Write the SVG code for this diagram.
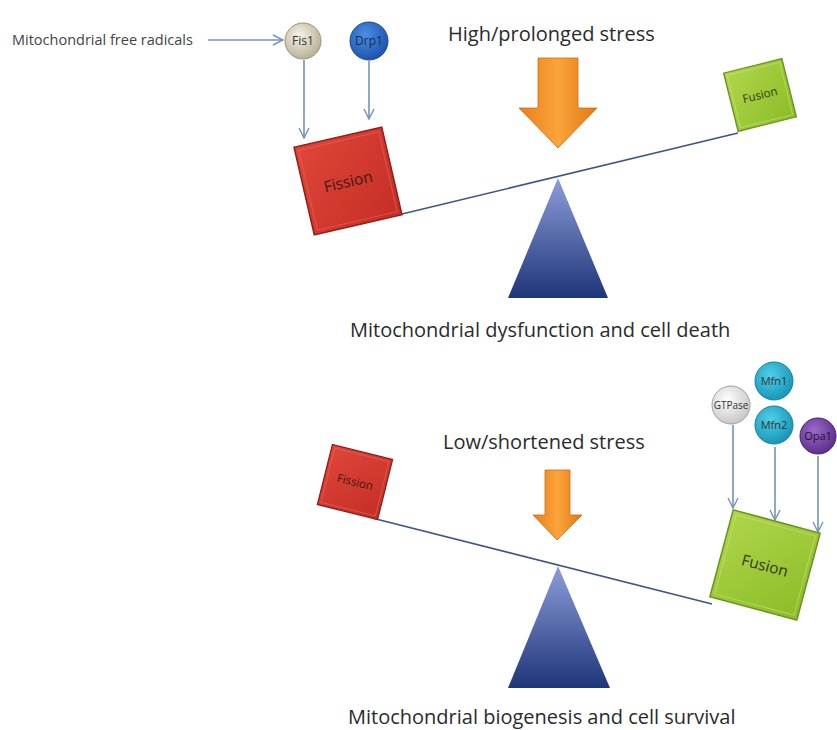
<svg xmlns="http://www.w3.org/2000/svg" width="837" height="730" viewBox="0 0 837 730">
<defs>
<style>
.t{font-family:"Open Sans","Liberation Sans",Arial,sans-serif;fill:#2b2b2b}
.big{font-size:20px}
.cap{font-size:20px}
.small{font-size:14.5px;fill:#444}
.lbl{font-size:11px;text-anchor:middle;fill:#333}
.con{stroke:#7393b8;stroke-width:1.6;fill:none;marker-end:url(#ah)}
.beam{stroke:#3d5683;stroke-width:1.6;fill:none}
.boxtxt{font-size:15.5px;text-anchor:middle;fill:#3a1a10}
</style>
<marker id="ah" viewBox="0 0 12 12" refX="11" refY="6" markerWidth="12" markerHeight="12" markerUnits="userSpaceOnUse" orient="auto">
<path d="M1,1 L11,6 L1,11" fill="none" stroke="#7393b8" stroke-width="1.4"/>
</marker>
<linearGradient id="orange" x1="0" y1="0" x2="1" y2="0">
<stop offset="0" stop-color="#e8801c"/>
<stop offset="0.5" stop-color="#fba43a"/>
<stop offset="1" stop-color="#e27814"/>
</linearGradient>
<linearGradient id="tri" x1="0" y1="0" x2="0" y2="1">
<stop offset="0" stop-color="#8d9ddb"/>
<stop offset="1" stop-color="#1e3578"/>
</linearGradient>
<linearGradient id="red" x1="0" y1="0" x2="1" y2="1">
<stop offset="0" stop-color="#e0463a"/>
<stop offset="1" stop-color="#c42e24"/>
</linearGradient>
<linearGradient id="green" x1="0" y1="0" x2="1" y2="1">
<stop offset="0" stop-color="#b0d64a"/>
<stop offset="1" stop-color="#8cbc28"/>
</linearGradient>
<radialGradient id="cream" cx="0.4" cy="0.35" r="0.7">
<stop offset="0" stop-color="#f6f4ea"/>
<stop offset="1" stop-color="#b4ad90"/>
</radialGradient>
<radialGradient id="blue" cx="0.4" cy="0.35" r="0.7">
<stop offset="0" stop-color="#4a90e6"/>
<stop offset="1" stop-color="#1b4fa8"/>
</radialGradient>
<radialGradient id="white" cx="0.4" cy="0.35" r="0.7">
<stop offset="0" stop-color="#ffffff"/>
<stop offset="1" stop-color="#c4c4c4"/>
</radialGradient>
<radialGradient id="cyan" cx="0.4" cy="0.35" r="0.7">
<stop offset="0" stop-color="#4fd0ea"/>
<stop offset="1" stop-color="#1492b4"/>
</radialGradient>
<radialGradient id="purple" cx="0.4" cy="0.35" r="0.7">
<stop offset="0" stop-color="#9a6ac8"/>
<stop offset="1" stop-color="#5b2b8a"/>
</radialGradient>
</defs>
<rect width="837" height="730" fill="#ffffff"/>

<!-- connectors -->
<g id="connectors">
<line class="con" x1="208" y1="40" x2="283" y2="40"/>
<line class="con" x1="304" y1="60" x2="304" y2="138"/>
<line class="con" x1="369" y1="61" x2="369" y2="119"/>
<line class="con" x1="733" y1="425" x2="733" y2="508"/>
<line class="con" x1="775" y1="447" x2="775" y2="520"/>
<line class="con" x1="818" y1="456" x2="818" y2="532"/>
<line class="beam" x1="402" y1="214" x2="738" y2="133"/>
<line class="beam" x1="372" y1="518" x2="712" y2="604"/>
</g>

<!-- top section -->
<g id="free-radicals"><text class="t small" x="12" y="45">Mitochondrial free radicals</text></g>
<g id="fis1">
<circle cx="303" cy="41" r="18" fill="url(#cream)" stroke="#9a9478" stroke-width="1"/>
<text class="t lbl" x="303" y="45" style="font-size:12px">Fis1</text>
</g>
<g id="drp1">
<circle cx="369" cy="41" r="19" fill="url(#blue)" stroke="#1a4a9a" stroke-width="1"/>
<text class="t lbl" x="369" y="45" style="font-size:12px;fill:#1c2a4a">Drp1</text>
</g>
<g id="high-stress-label"><text class="t big" x="448" y="41">High/prolonged stress</text></g>
<g id="high-stress-arrow">
<polygon points="538,58 578,58 578,108 597,108 558,148 519,108 538,108" fill="url(#orange)" stroke="#d06a10" stroke-width="0.8"/>
</g>
<g id="fission-top" transform="translate(348,181) rotate(-13)">
<rect x="-45" y="-45" width="90" height="90" fill="url(#red)" stroke="#8e1e18" stroke-width="1.5"/>
<rect x="-41" y="-41" width="82" height="82" fill="none" stroke="#e8685c" stroke-width="1" opacity="0.6"/>
<text class="t boxtxt" x="0" y="6">Fission</text>
</g>
<g id="fusion-top" transform="translate(760,95) rotate(-14)">
<rect x="-30" y="-30" width="60" height="60" fill="url(#green)" stroke="#6a9220" stroke-width="1.3"/>
<rect x="-27" y="-27" width="54" height="54" fill="none" stroke="#cce47a" stroke-width="1" opacity="0.6"/>
<text class="t boxtxt" x="0" y="4" style="font-size:11.5px;fill:#2e3a10">Fusion</text>
</g>
<g id="fulcrum-top">
<polygon points="558,178 608,298 508,298" fill="url(#tri)"/>
</g>
<g id="top-outcome"><text class="t cap" x="350" y="337">Mitochondrial dysfunction and cell death</text></g>

<!-- bottom section -->
<g id="gtpase">
<circle cx="731" cy="405" r="19" fill="url(#white)" stroke="#a0a0a0" stroke-width="1"/>
<text class="t lbl" x="731" y="409" style="font-size:10px">GTPase</text>
</g>
<g id="mfn1">
<circle cx="774" cy="381" r="19" fill="url(#cyan)" stroke="#10809e" stroke-width="1"/>
<text class="t lbl" x="774" y="385">Mfn1</text>
</g>
<g id="mfn2">
<circle cx="774" cy="425" r="19" fill="url(#cyan)" stroke="#10809e" stroke-width="1"/>
<text class="t lbl" x="774" y="429">Mfn2</text>
</g>
<g id="opa1">
<circle cx="818" cy="436" r="18" fill="url(#purple)" stroke="#4a2075" stroke-width="1"/>
<text class="t lbl" x="818" y="440" style="fill:#1e1030">Opa1</text>
</g>
<g id="low-stress-label"><text class="t big" x="443" y="449">Low/shortened stress</text></g>
<g id="low-stress-arrow">
<polygon points="545,470 570,470 570,515 582,515 557,540 533,515 545,515" fill="url(#orange)" stroke="#d06a10" stroke-width="0.8"/>
</g>
<g id="fission-bottom" transform="translate(355,482) rotate(14)">
<rect x="-31" y="-31" width="62" height="62" fill="url(#red)" stroke="#8e1e18" stroke-width="1.3"/>
<rect x="-28" y="-28" width="56" height="56" fill="none" stroke="#e8685c" stroke-width="1" opacity="0.6"/>
<text class="t boxtxt" x="0" y="4" style="font-size:11.5px">Fission</text>
</g>
<g id="fusion-bottom" transform="translate(765,565) rotate(15)">
<rect x="-45" y="-45" width="90" height="90" fill="url(#green)" stroke="#6a9220" stroke-width="1.5"/>
<rect x="-41" y="-41" width="82" height="82" fill="none" stroke="#cce47a" stroke-width="1" opacity="0.6"/>
<text class="t boxtxt" x="0" y="6" style="fill:#2e3a10">Fusion</text>
</g>
<g id="fulcrum-bottom">
<polygon points="558,566 610,688 508,688" fill="url(#tri)"/>
</g>
<g id="bottom-outcome"><text class="t cap" x="348" y="724">Mitochondrial biogenesis and cell survival</text></g>
</svg>
